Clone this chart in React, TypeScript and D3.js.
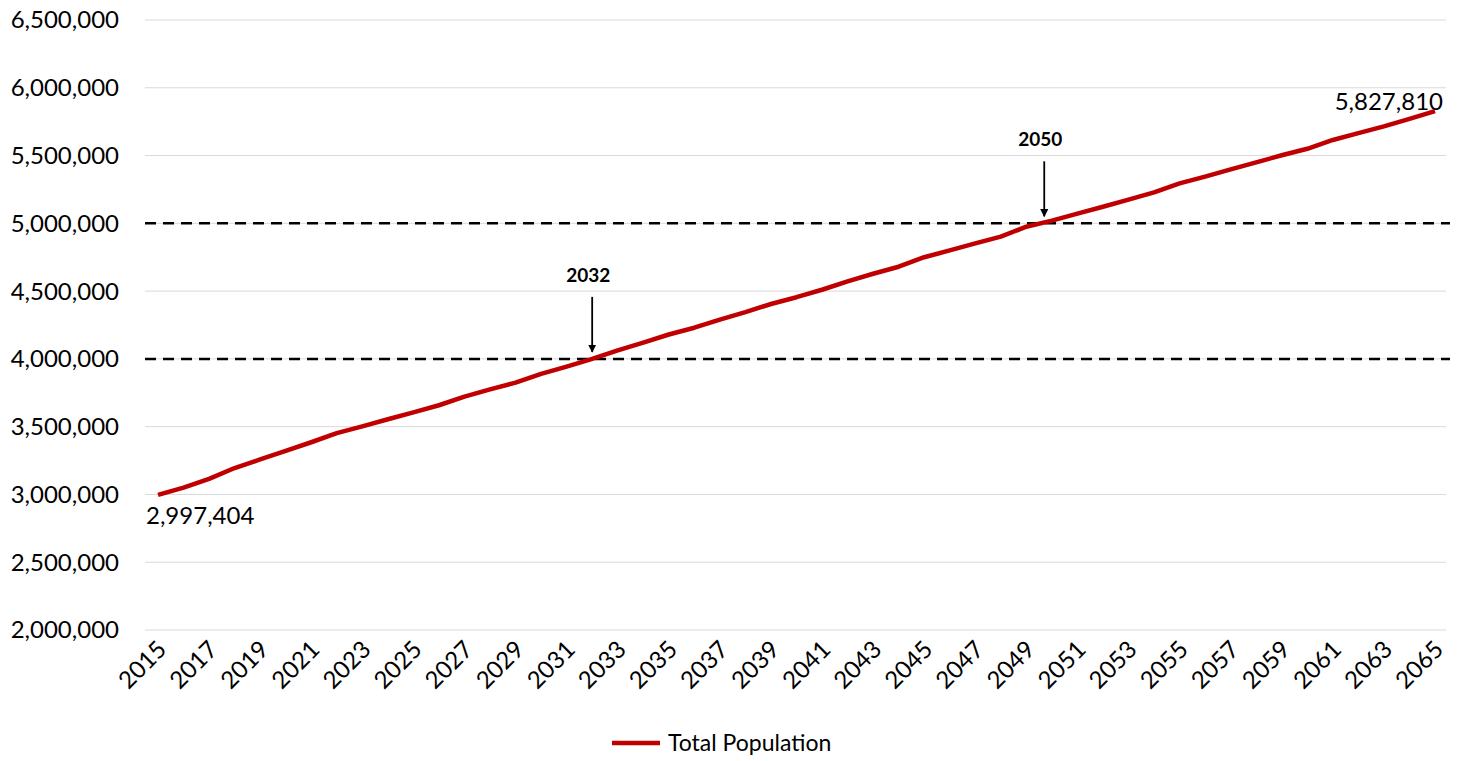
import React from "react";
import * as d3 from "d3";

const years = d3.range(2015, 2066);
const population = [
  2997404, 3050000, 3115000, 3195000, 3258000, 3322000, 3385000, 3452000, 3502000, 3555000,
  3605000, 3658000, 3722000, 3775000, 3825000, 3890000, 3943000, 4000000, 4062000, 4120000,
  4180000, 4230000, 4290000, 4345000, 4405000, 4455000, 4510000, 4572000, 4628000, 4680000,
  4750000, 4800000, 4852000, 4902000, 4975000, 5020000, 5072000, 5122000, 5175000, 5228000,
  5295000, 5345000, 5398000, 5450000, 5502000, 5550000, 5615000, 5665000, 5715000, 5770000,
  5827810,
];
const yTicks = d3.range(2000000, 6500001, 500000);
const thresholds = [4000000, 5000000];
const callouts = [
  { year: 2032, value: 4000000 },
  { year: 2049.7, label: "2050", value: 5000000 },
];

const W = 1461;
const H = 761;
const font = "Lato, 'Noto Sans', sans-serif";

export default function App() {
  const x = d3.scaleLinear().domain([2015, 2065]).range([158, 1435]);
  const y = d3.scaleLinear().domain([2000000, 6500000]).range([630, 20]);
  const fmt = d3.format(",");
  const line = d3
    .line<number>()
    .x((_, i) => x(years[i]))
    .y((d) => y(d));

  return (
    <svg width={W} height={H} style={{ position: "absolute", left: 0, top: 0 }} fontFamily={font}>
      <defs>
        <marker id="arr" viewBox="0 0 10 10" refX="9" refY="5" markerWidth="4.5" markerHeight="5" orient="auto">
          <path d="M0,0 L10,5 L0,10 z" fill="#000" />
        </marker>
      </defs>
      {yTicks.map((t) => (
        <g key={t}>
          <line x1={145} x2={1446} y1={y(t)} y2={y(t)} stroke="#d9d9d9" strokeWidth={1} />
          <text x={119} y={y(t)} dy="0.35em" textAnchor="end" fontSize={24} fill="#000">
            {fmt(t)}
          </text>
        </g>
      ))}
      {years.filter((yr) => (yr - 2015) % 2 === 0).map((yr) => (
        <text
          key={yr}
          transform={`translate(${x(yr) + 4},${645}) rotate(-45)`}
          textAnchor="end"
          dy="0.35em"
          fontSize={24}
        >
          {yr}
        </text>
      ))}
      {thresholds.map((t) => (
        <line key={t} x1={145} x2={1450} y1={y(t)} y2={y(t)} stroke="#000" strokeWidth={2.5} strokeDasharray="11,7" />
      ))}
      <path d={line(population) ?? ""} fill="none" stroke="#c00000" strokeWidth={4.5} strokeLinejoin="round" />
      {callouts.map((c) => (
        <g key={c.year}>
          <text x={x(c.year) - 4} y={y(c.value) - 77} textAnchor="middle" fontSize={19} fontWeight="bold">
            {c.label ?? c.year}
          </text>
          <line
            x1={x(c.year)}
            x2={x(c.year)}
            y1={y(c.value) - 62}
            y2={y(c.value) - 7}
            stroke="#000"
            strokeWidth={1.8}
            markerEnd="url(#arr)"
          />
        </g>
      ))}
      <text x={146} y={516} dy="0.35em" fontSize={24}>{fmt(population[0])}</text>
      <text x={1443} y={102} dy="0.35em" textAnchor="end" fontSize={24}>{fmt(population[population.length - 1])}</text>
      <line x1={612} x2={660} y1={743} y2={743} stroke="#c00000" strokeWidth={4.5} />
      <text x={668} y={743} dy="0.35em" fontSize={23}>Total Population</text>
    </svg>
  );
}
